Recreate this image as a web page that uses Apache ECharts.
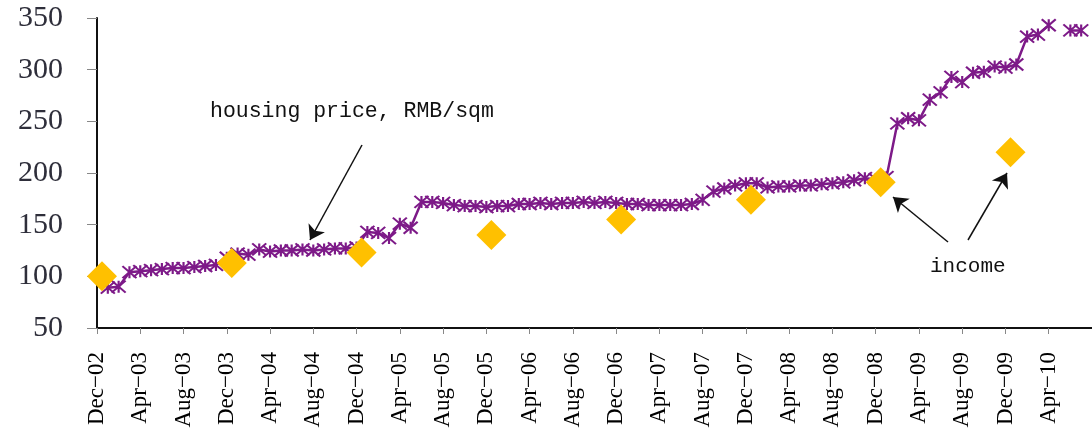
<!DOCTYPE html>
<html>
<head>
<meta charset="utf-8">
<script src="https://cdn.jsdelivr.net/npm/echarts@6/dist/echarts.min.js"></script>
<style>
  html, body { margin: 0; padding: 0; background: #fff; }
  #chart { width: 1092px; height: 435px; }
</style>
</head>
<body>
<div id="chart"></div>
<script>
// months on the x axis, Dec-02 .. Aug-10
const monthNames = ['Jan', 'Feb', 'Mar', 'Apr', 'May', 'Jun', 'Jul', 'Aug', 'Sep', 'Oct', 'Nov', 'Dec'];
const months = ['Dec\u221202'];
for (let y = 3; y <= 10; y++) {
  for (let m = 0; m < 12; m++) {
    if (y === 10 && m > 7) break;
    months.push(monthNames[m] + '\u2212' + (y < 10 ? '0' + y : '' + y));
  }
}
// only every 4th month is labelled, up to Apr-10
const lastLabelled = 'Apr\u221210';

// housing price, RMB/sqm (monthly)
const housingPrice = [
  null, 89, 90, 104, 105, 106, 107, 108, 108, 109, 110, 111,
  118, 122, 121, 126, 124, 125, 125, 126, 125, 126, 127, 127,
  128, 143, 142, 137, 151, 147, 172, 172, 171, 169, 168, 168,
  167, 168, 168, 170, 170, 171, 170, 171, 171, 172, 171, 172,
  171, 170, 170, 169, 169, 169, 169, 170, 174, 182, 185, 188,
  190, 190, 186, 187, 187, 188, 188, 189, 190, 191, 193, 195,
  194, 196, 248, 253, 251, 271, 278, 293, 288, 297, 298, 303,
  302, 305, 332, 334, 343, null, 338, 338, null
];

// income, once a year in December
const incomeMonths = ['Dec\u221202', 'Dec\u221203', 'Dec\u221204', 'Dec\u221205', 'Dec\u221206', 'Dec\u221207', 'Dec\u221208', 'Dec\u221209'];
const incomeValues = [100, 113, 123, 140, 155, 174, 191, 220];

const lastIdx = months.indexOf(lastLabelled);
const showTick = function (index) { return index % 4 === 0 && index <= lastIdx; };

const chart = echarts.init(document.getElementById('chart'));

const option = {
  animation: false,
  backgroundColor: '#ffffff',
  grid: { left: 97, right: 0, top: 18, bottom: 107, containLabel: false },
  xAxis: {
    type: 'category',
    data: months,
    boundaryGap: false,
    axisLine: { onZero: false, lineStyle: { color: '#111', width: 2 } },
    axisTick: { interval: showTick, length: 6, lineStyle: { color: '#888' } },
    axisLabel: {
      interval: showTick,
      rotate: 90,
      margin: 24,
      fontFamily: 'Liberation Serif',
      fontSize: 23,
      color: '#000'
    },
    splitLine: { show: false }
  },
  yAxis: {
    type: 'value',
    min: 50,
    max: 350,
    interval: 50,
    axisLine: { show: true, lineStyle: { color: '#111', width: 2 } },
    axisTick: { show: true, length: 10, lineStyle: { color: '#888' } },
    axisLabel: {
      margin: 34,
      fontFamily: 'Liberation Serif',
      fontSize: 30,
      color: '#2e2e3a'
    },
    splitLine: { show: false }
  },
  series: [
    {
      name: 'housing price',
      type: 'line',
      data: housingPrice,
      connectNulls: false,
      showAllSymbol: true,
      symbol: 'path://M0,0L12,10M12,0L0,10M6,0L6,10',
      symbolSize: [14, 12],
      lineStyle: { color: '#7d1a88', width: 2.5 },
      itemStyle: { color: '#7d1a88', borderColor: '#7d1a88', borderWidth: 2 },
      z: 2,
      markLine: {
        silent: true,
        symbol: ['none', 'arrow'],
        symbolSize: 14,
        label: { show: false },
        lineStyle: { color: '#111', width: 1.5, type: 'solid' },
        data: [
          [{ x: 362, y: 145 }, { x: 310, y: 240 }],
          [{ x: 948, y: 242 }, { x: 893, y: 197 }],
          [{ x: 968, y: 240 }, { x: 1007, y: 173 }]
        ]
      }
    },
    {
      name: 'income',
      type: 'scatter',
      data: incomeMonths.map(function (m, i) { return [m, incomeValues[i]]; }),
      symbol: 'diamond',
      symbolSize: [30, 30],
      symbolOffset: [5, 0],
      itemStyle: { color: '#ffc000', opacity: 1 },
      z: 3
    }
  ],
  graphic: [
    {
      type: 'text',
      left: 210,
      top: 100,
      style: {
        text: 'housing price, RMB/sqm',
        font: '21.5px "Liberation Mono"',
        fill: '#111'
      }
    },
    {
      type: 'text',
      left: 930,
      top: 256,
      style: {
        text: 'income',
        font: '21px "Liberation Mono"',
        fill: '#111'
      }
    }
  ]
};

chart.setOption(option);
</script>
</body>
</html>
